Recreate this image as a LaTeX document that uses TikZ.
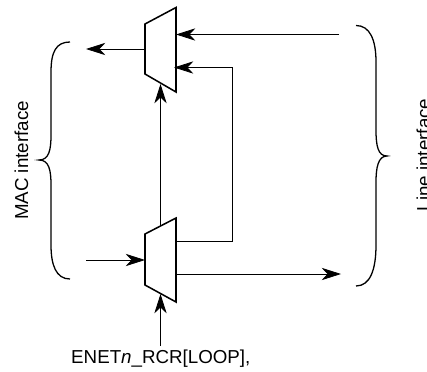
\documentclass[tikz,border=0pt]{standalone}
\usepackage{fontspec}
\setmainfont{Liberation Sans}
\usetikzlibrary{arrows.meta}

\begin{document}
\begin{tikzpicture}[x = 0.03cm, y = -0.03cm,
sig/.style = {line width = 0.7pt, -{Stealth[length = 16.5pt, width = 10.5pt, inset = 5pt]}},
mux/.style = {line width = 1.3pt},
brace/.style = {line width = 1.1pt},
lab/.style = {font = \fontsize{16pt}{18pt}\selectfont, inner sep = 0pt}]
\clip (0, 0) rectangle (427, 372);
\useasboundingbox (0, 0) rectangle (427, 372);
% muxes
\coordinate (topA) at (145, 24);
\coordinate (topB) at (176, 7.5);
\coordinate (topC) at (176, 92);
\coordinate (topD) at (145, 74);
\coordinate (botA) at (145, 234);
\coordinate (botB) at (176, 218);
\coordinate (botC) at (176, 302);
\coordinate (botD) at (145, 285);
% connector ends
\coordinate (macOut) at (86, 49);
\coordinate (topOut) at (145, 49);
\coordinate (lineIn) at (339, 34.5);
\coordinate (topIn) at (176, 34.5);
\coordinate (loopIn) at (174, 67.5);
\coordinate (loopR) at (232, 67.5);
\coordinate (loopQ) at (232, 241.5);
\coordinate (botLoop) at (176, 241.5);
\coordinate (botUp) at (160.5, 226);
\coordinate (topSel) at (160.5, 84);
\coordinate (macIn) at (86, 260);
\coordinate (botIn) at (145, 260);
\coordinate (botOut) at (176, 274);
\coordinate (lineOut) at (341, 274);
\coordinate (ctlEnd) at (160.5, 346);
\coordinate (botSel) at (160.5, 294);
\draw[mux] (topA) -- (topB) -- (topC) -- (topD) -- cycle;
\draw[mux] (botA) -- (botB) -- (botC) -- (botD) -- cycle;
\draw[sig] (topOut) -- (macOut);
\draw[sig] (lineIn) -- (topIn);
\draw[sig] (botLoop) -- (loopQ) -- (loopR) -- (loopIn);
\draw[sig] (botUp) -- (topSel);
\draw[sig] (macIn) -- (botIn);
\draw[sig] (botOut) -- (lineOut);
\draw[sig] (ctlEnd) -- (botSel);
% braces
\draw[brace] (70, 42) .. controls (56, 42) and (51, 52) .. (51, 72)
-- (51, 135) .. controls (51, 150) and (49, 160) .. (39, 160)
.. controls (49, 160) and (51, 170) .. (51, 185)
-- (51, 245) .. controls (51, 265) and (56, 279) .. (70, 279);
\draw[brace] (356, 25.5) .. controls (370, 25.5) and (376, 40) .. (376, 62)
-- (376, 130) .. controls (376, 146) and (378, 156) .. (387, 156)
.. controls (378, 156) and (376, 168) .. (376, 182)
-- (376, 245) .. controls (376, 270) and (370, 286) .. (356, 286);
% labels
\node[lab, rotate = 90, anchor = base] (macLab) at (28, 160.5) {MAC interface};
\node[lab, rotate = 90, anchor = base] (lineLab) at (430, 155) {Line interface};
\node[lab, anchor = base west] (ctlLab) at (71, 363) {ENET\textit{n}\_RCR[LOOP],};
\end{tikzpicture}
\end{document}
